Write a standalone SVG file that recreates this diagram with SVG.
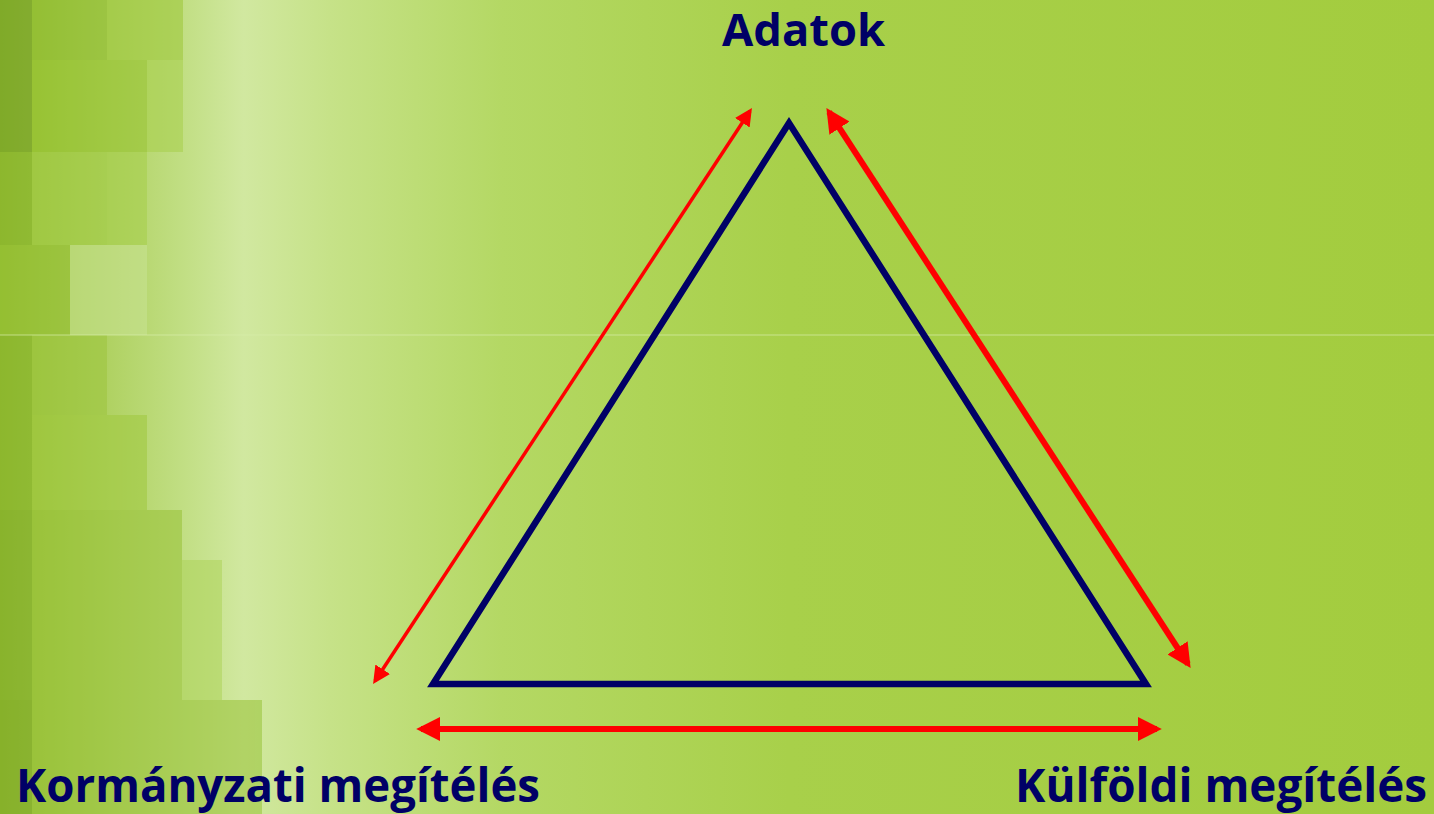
<svg xmlns="http://www.w3.org/2000/svg" width="1434" height="814" viewBox="0 0 1434 814">
<defs>
<linearGradient id="bg" x1="0" y1="0" x2="1434" y2="0" gradientUnits="userSpaceOnUse">
<stop offset="0" stop-color="#96bf32"/>
<stop offset="0.13" stop-color="#c2df85"/>
<stop offset="0.17" stop-color="#d1e8a0"/>
<stop offset="0.23" stop-color="#c6e288"/>
<stop offset="0.35" stop-color="#b4d864"/>
<stop offset="0.55" stop-color="#a8d04a"/>
<stop offset="1" stop-color="#a3cc3e"/>
</linearGradient>
<marker id="ah" viewBox="0 0 10 10" refX="8" refY="5" markerWidth="4" markerHeight="4" orient="auto-start-reverse" markerUnits="strokeWidth">
<path d="M0,0 L10,5 L0,10 Z" fill="#ff0000"/>
</marker>
<marker id="ahs" viewBox="0 0 10 10" refX="8" refY="5" markerWidth="5" markerHeight="5" orient="auto-start-reverse" markerUnits="strokeWidth">
<path d="M0,0 L10,5 L0,10 Z" fill="#ff0000"/>
</marker>
<style>
.lbl{font-family:"Open Sans","Noto Sans","Liberation Sans",sans-serif;font-weight:700;fill:#000066;}
.arr{stroke:#ff0000;fill:none;}
</style>
</defs>
<g id="background">
<rect width="1434" height="814" fill="url(#bg)"/>
<g opacity="0.55">
<rect x="0" y="0" width="32" height="152" fill="#6f9a22"/>
<rect x="32" y="0" width="75" height="60" fill="#8dbb2a"/>
<rect x="107" y="0" width="76" height="60" fill="#9dc838"/>
<rect x="32" y="60" width="115" height="92" fill="#94c22a"/>
<rect x="147" y="60" width="36" height="92" fill="#a8d04c"/>
<rect x="0" y="152" width="32" height="93" fill="#86b22a"/>
<rect x="32" y="152" width="75" height="93" fill="#a2cc44"/>
<rect x="107" y="152" width="40" height="93" fill="#a6cf4a"/>
<rect x="0" y="245" width="70" height="90" fill="#94bf32"/>
<rect x="70" y="245" width="77" height="90" fill="#c9e394"/>
<rect x="0" y="335" width="32" height="175" fill="#86b22a"/>
<rect x="32" y="335" width="75" height="80" fill="#9dc63e"/>
<rect x="32" y="415" width="115" height="95" fill="#a0c93e"/>
<rect x="0" y="510" width="32" height="190" fill="#7fab28"/>
<rect x="32" y="510" width="150" height="190" fill="#98c236"/>
<rect x="182" y="560" width="40" height="140" fill="#aed45a"/>
<rect x="0" y="700" width="32" height="114" fill="#7ba624"/>
<rect x="32" y="700" width="230" height="114" fill="#98c236"/>
</g>
<line x1="0" y1="335" x2="1434" y2="335" stroke="#d8eeaa" stroke-width="1" opacity="0.7"/>
</g>
<g id="triangle">
<polygon points="789,123 433,684 1146,684" fill="none" stroke="#000066" stroke-width="6.5" stroke-linejoin="miter"/>
</g>
<g id="connectors">
<line class="arr" x1="375" y1="681" x2="750" y2="111" stroke-width="3.5" marker-start="url(#ahs)" marker-end="url(#ahs)"/>
<line class="arr" x1="829" y1="112" x2="1188" y2="664" stroke-width="6" marker-start="url(#ah)" marker-end="url(#ah)"/>
<line class="arr" x1="421" y1="729" x2="1157" y2="729" stroke-width="6" marker-start="url(#ah)" marker-end="url(#ah)"/>
</g>
<g id="node-adatok">
<text class="lbl" x="722" y="46" font-size="44" textLength="163" lengthAdjust="spacingAndGlyphs">Adatok</text>
</g>
<g id="node-kormanyzati">
<text class="lbl" x="16" y="802" font-size="46" textLength="524" lengthAdjust="spacingAndGlyphs">Kormányzati megítélés</text>
</g>
<g id="node-kulfoldi">
<text class="lbl" x="1015" y="802" font-size="46" textLength="412" lengthAdjust="spacingAndGlyphs">Külföldi megítélés</text>
</g>
</svg>
